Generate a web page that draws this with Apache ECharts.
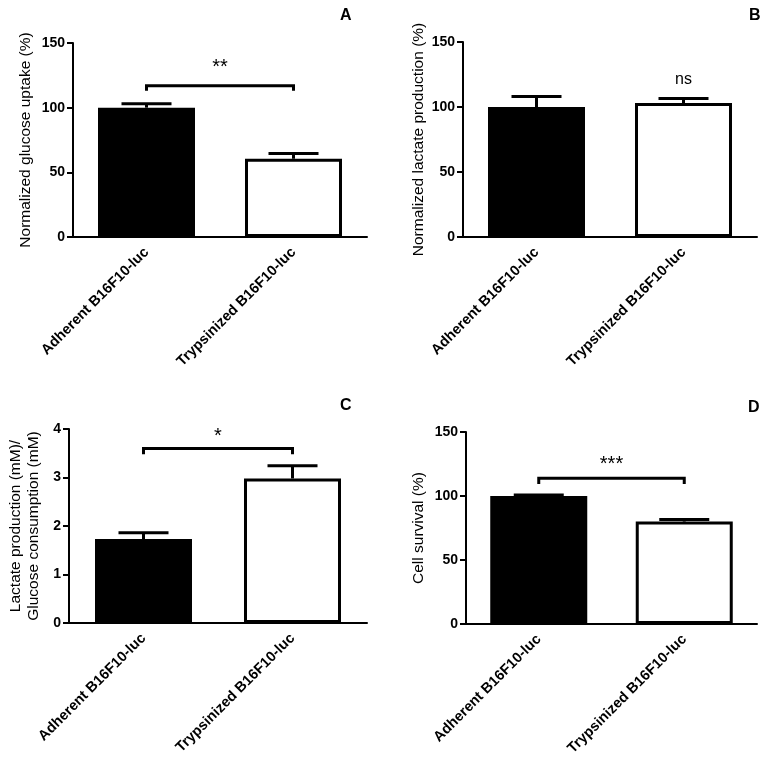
<!DOCTYPE html>
<html>
<head>
<meta charset="utf-8">
<script src="https://cdn.jsdelivr.net/npm/echarts@6/dist/echarts.min.js"></script>
<style>html,body{margin:0;padding:0;background:#fff}#c{width:764px;height:761px}</style>
</head>
<body>
<div id="c"></div>
<script>
// ---- data ----
const categories = ['Adherent B16F10-luc', 'Trypsinized B16F10-luc'];
const glucoseUptake = [100, 60.5];
const glucoseErr = [3, 4];
const lactateProd = [100, 103];
const lactateErr = [8, 3.5];
const lactateRatio = [1.73, 2.98];
const lactateRatioErr = [0.13, 0.26];
const cellSurvival = [100, 80];
const cellSurvivalErr = [0.8, 1.7];
const panelLetters = ['A', 'B', 'C', 'D'];
const yNames = ['Normalized glucose uptake (%)', 'Normalized lactate production (%)',
  'Lactate production (mM)/\nGlucose consumption (mM)', 'Cell survival (%)'];
const yMax = [150, 150, 4, 150];
const yInterval = [50, 50, 1, 50];
// significance brackets
const sigA = { from: 0, to: 1, top: 117, end: 113, labelY: 131, text: '**' };
const sigB = { from: 1, to: 1, top: null, end: null, labelY: 121, text: 'ns' };
const sigC = { from: 0, to: 1, top: 3.6, end: 3.48, labelY: 3.84, text: '*' };
const sigD = { from: 0, to: 1, top: 113.8, end: 109.4, labelY: 125, text: '***' };

const panels = [
  { vals: glucoseUptake, errs: glucoseErr, sig: sigA },
  { vals: lactateProd, errs: lactateErr, sig: sigB },
  { vals: lactateRatio, errs: lactateRatioErr, sig: sigC },
  { vals: cellSurvival, errs: cellSurvivalErr, sig: sigD }
];

const FONT = '"Liberation Sans", Arial, sans-serif';
const grids = [
  { left: 73, right: 397, top: 43, bottom: 524 },
  { left: 463, right: 7, top: 42, bottom: 524 },
  { left: 69, right: 397, top: 429, bottom: 138 },
  { left: 466, right: 7, top: 432, bottom: 137 }
];
const nameGaps = [38, 35, 26, 38];

const xAxes = [], yAxes = [], series = [];
panels.forEach((p, i) => {
  xAxes.push({
    type: 'category', gridIndex: i, data: categories,
    axisLine: { lineStyle: { color: '#000', width: 2 } },
    axisTick: { alignWithLabel: true, length: 6, lineStyle: { color: '#000', width: 2 } },
    axisLabel: { rotate: 45, color: '#000', fontFamily: FONT, fontWeight: 'bold', fontSize: 14.5, margin: 13 }
  });
  yAxes.push({
    type: 'value', gridIndex: i, min: 0, max: yMax[i], interval: yInterval[i],
    name: yNames[i], nameLocation: 'middle', nameGap: nameGaps[i],
    nameTextStyle: { color: '#000', fontFamily: FONT, fontSize: 15.5, lineHeight: 18 },
    axisLine: { show: true, lineStyle: { color: '#000', width: 2 } },
    axisTick: { show: true, length: 6, lineStyle: { color: '#000', width: 2 } },
    axisLabel: { color: '#000', fontFamily: FONT, fontWeight: 'bold', fontSize: 14, margin: 8 },
    splitLine: { show: false }
  });
  series.push({
    type: 'bar', xAxisIndex: i, yAxisIndex: i, barWidth: 97,
    data: p.vals.map((v, k) => ({
      value: v,
      itemStyle: k === 0 ? { color: '#000', borderColor: '#000', borderWidth: 3 }
                         : { color: '#fff', borderColor: '#000', borderWidth: 3 }
    }))
  });
  series.push({
    type: 'custom', xAxisIndex: i, yAxisIndex: i, z: 3,
    data: p.vals.map((v, k) => [k, v, p.errs[k]]),
    renderItem: (params, api) => {
      const x = api.value(0), v = api.value(1), e = api.value(2);
      const b = api.coord([x, v]);
      const t = api.coord([x, v + e]);
      const hw = 25;
      return { type: 'group', children: [
        { type: 'line', shape: { x1: t[0], y1: b[1], x2: t[0], y2: t[1] }, style: { stroke: '#000', lineWidth: 3 } },
        { type: 'line', shape: { x1: t[0] - hw, y1: t[1], x2: t[0] + hw, y2: t[1] }, style: { stroke: '#000', lineWidth: 3 } }
      ] };
    }
  });
  const s = p.sig;
  series.push({
    type: 'custom', xAxisIndex: i, yAxisIndex: i, z: 4,
    data: [[s.from, s.to, s.top === null ? 0 : s.top, s.end === null ? 0 : s.end, s.labelY]],
    renderItem: (params, api) => {
      const a = api.value(0), b = api.value(1);
      const pa = api.coord([a, api.value(4)]);
      const pb = api.coord([b, api.value(4)]);
      const lx = (pa[0] + pb[0]) / 2, ly = pa[1];
      const children = [];
      if (s.top !== null) {
        const p1 = api.coord([a, api.value(2)]);
        const p2 = api.coord([b, api.value(2)]);
        const e1 = api.coord([a, api.value(3)]);
        children.push({ type: 'polyline', shape: { points: [[p1[0], e1[1]], [p1[0], p1[1]], [p2[0], p2[1]], [p2[0], e1[1]]] },
          style: { stroke: '#000', lineWidth: 3, fill: null } });
      }
      const isAst = s.text.indexOf('*') >= 0;
      children.push({ type: 'text', x: lx, y: ly,
        style: { text: s.text, fill: '#000', font: (isAst ? '20px ' : '16px ') + FONT, align: 'center', verticalAlign: 'middle' } });
      return { type: 'group', children };
    }
  });
});

const chart = echarts.init(document.getElementById('c'), null, { renderer: 'canvas' });
chart.setOption({
  backgroundColor: '#fff',
  animation: false,
  title: [
    { text: 'A', left: 335, top: 3 },
    { text: 'B', left: 744, top: 3 },
    { text: 'C', left: 335, top: 393 },
    { text: 'D', left: 743, top: 395 }
  ].map(t => Object.assign(t, { textStyle: { fontFamily: FONT, fontWeight: 'bold', fontSize: 16, color: '#000' } })),
  grid: grids,
  xAxis: xAxes,
  yAxis: yAxes,
  series
});
</script>
</body>
</html>
